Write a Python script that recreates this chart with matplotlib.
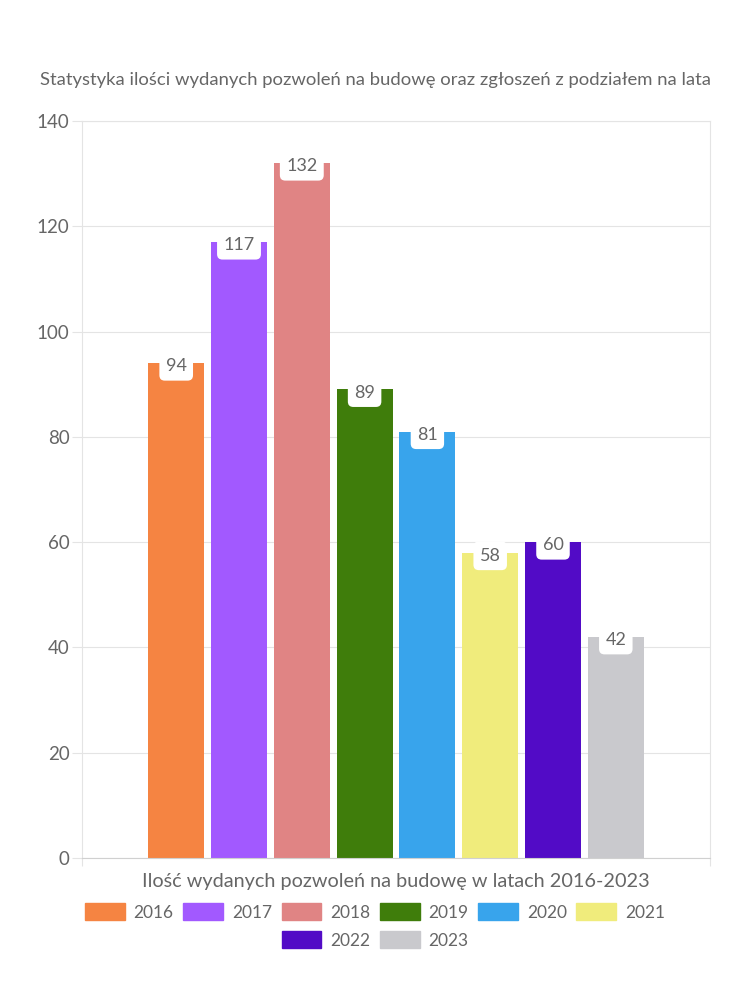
import matplotlib.pyplot as plt
import matplotlib.patches as mpatches
import numpy as np

# values
years = ['2016', '2017', '2018', '2019', '2020', '2021', '2022', '2023']
permits = [94, 117, 132, 89, 81, 58, 60, 42]
colors = ['#F58442', '#A259FF', '#E08484', '#3F7D0B', '#38A4EC', '#F0EC7C', '#520BC6', '#C9C9CD']
yticks = [0, 20, 40, 60, 80, 100, 120, 140]

plt.rcParams['font.family'] = ['Lato', 'DejaVu Sans']
txt = '#666666'
grid = '#E4E4E4'

fig = plt.figure(figsize=(7.5, 10), dpi=100)
ax = fig.add_axes([82/750, 1-858/1000, 628/750, 737/1000])

x = np.arange(len(years))
bars = ax.bar(x, permits, width=0.89, color=colors, zorder=2)

for xi, v in zip(x, permits):
    ax.text(xi, v - 0.6, str(v), ha='center', va='center', fontsize=13, color=txt, zorder=4,
            bbox=dict(boxstyle='round,pad=0.35,rounding_size=0.3', fc='white', ec='none'))

ax.set_xlim(-1.5, 8.5)
ax.set_ylim(0, 140)
ax.set_yticks(yticks)
ax.set_yticklabels([str(t) for t in yticks])
ax.set_xticks([-1.5, 8.5])
ax.set_xticklabels(['', ''])
ax.tick_params(axis='y', length=7, color=grid, labelsize=13.5, labelcolor=txt, pad=2)
ax.tick_params(axis='x', length=6, color=grid)
ax.grid(axis='y', color=grid, linewidth=0.8, zorder=0)
for s in ax.spines.values():
    s.set_color(grid)
    s.set_linewidth(0.8)
ax.spines['bottom'].set_color('#D0D0D0')

ax.set_xlabel('Ilość wydanych pozwoleń na budowę w latach 2016-2023', fontsize=14.3,
              color=txt, labelpad=1)

fig.text(0.5, 1-80/1000, 'Statystyka ilości wydanych pozwoleń na budowę oraz zgłoszeń z podziałem na lata',
         ha='center', va='center', fontsize=13.3, color=txt)

# two legends: six years in the first row, the last two centred below
handles = [mpatches.Patch(color=c, label=y) for c, y in zip(colors, years)]
leg_kw = dict(loc='center', frameon=False, fontsize=12.5, handlelength=2.3, handleheight=1.1,
              columnspacing=0.55, handletextpad=0.5, labelcolor=txt)
fig.legend(handles=handles[:6], bbox_to_anchor=(0.5, 1-912/1000), ncol=6, **leg_kw)
fig.legend(handles=handles[6:], bbox_to_anchor=(0.5, 1-940/1000), ncol=2, **leg_kw)

fig.savefig('out.png', dpi=100, facecolor='white')
